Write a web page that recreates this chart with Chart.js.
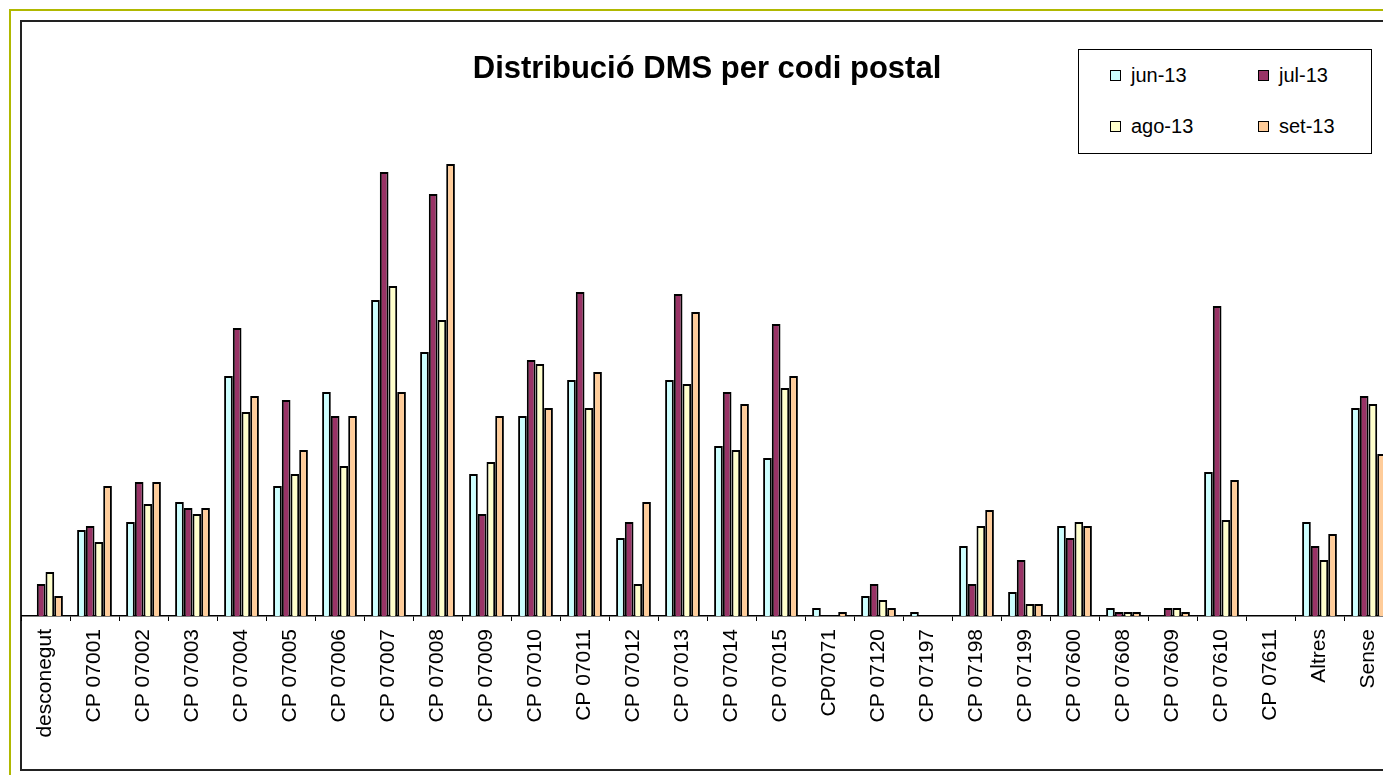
<!DOCTYPE html>
<html>
<head>
<meta charset="utf-8">
<script src="https://cdn.jsdelivr.net/npm/chart.js@4"></script>
<style>
html, body { margin: 0; padding: 0; overflow: hidden; background: #fff; width: 1383px; height: 775px; }
#outer { position: absolute; left: 9px; top: 9px; width: 1460px; height: 800px; border: 2px solid #b0b800; }
#inner { position: absolute; left: 20px; top: 20px; width: 1420px; height: 747px; border: 2px solid #222; }
#myChart { position: absolute; left: 21px; top: 21px; }
#legend { position: absolute; left: 1078px; top: 49px; width: 292px; height: 103px; border: 1px solid #000; background: #fff;
  font-family: "Liberation Sans", Arial, sans-serif; font-size: 20px; color: #000; }
.item { position: absolute; height: 24px; line-height: 24px; white-space: nowrap; }
.item span.sq { display: inline-block; width: 9px; height: 9px; border: 1px solid #000; margin-right: 10px; vertical-align: 1px; }
</style>
</head>
<body>
<div id="outer"></div>
<div id="inner"></div>
<canvas id="myChart" width="1372" height="748"></canvas>
<div id="legend"></div>
<script>
// categories and values
const categories = ['desconegut', 'CP 07001', 'CP 07002', 'CP 07003', 'CP 07004', 'CP 07005', 'CP 07006',
  'CP 07007', 'CP 07008', 'CP 07009', 'CP 07010', 'CP 07011', 'CP 07012', 'CP 07013', 'CP 07014',
  'CP 07015', 'CP07071', 'CP 07120', 'CP 07197', 'CP 07198', 'CP 07199', 'CP 07600', 'CP 07608',
  'CP 07609', 'CP 07610', 'CP 07611', 'Altres', 'Sense'];

const jun13 = [0, 21.5, 23.5, 28.5, 60, 32.5, 56, 79, 66, 35.5, 50, 59, 19.5, 59, 42.5, 39.5, 2, 5, 1, 17.5, 6, 22.5, 2, 0, 36, 0, 23.5, 52];
const jul13 = [8, 22.5, 33.5, 27, 72, 54, 50, 111, 105.5, 25.5, 64, 81, 23.5, 80.5, 56, 73, 0, 8, 0, 8, 14, 19.5, 1, 2, 77.5, 0, 17.5, 55];
const ago13 = [11, 18.5, 28, 25.5, 51, 35.5, 37.5, 82.5, 74, 38.5, 63, 52, 8, 58, 41.5, 57, 0, 4, 0, 22.5, 3, 23.5, 1, 2, 24, 0, 14, 53];
const set13 = [5, 32.5, 33.5, 27, 55, 41.5, 50, 56, 113, 50, 52, 61, 28.5, 76, 53, 60, 1, 2, 0, 26.5, 3, 22.5, 1, 1, 34, 0, 20.5, 40.5];

const seriesLabels = ['jun-13', 'jul-13', 'ago-13', 'set-13'];
const seriesColors = ['#ccffff', '#993366', '#ffffcc', '#ffcc99'];
const seriesValues = [jun13, jul13, ago13, set13];

const FONT = '"Liberation Sans", Arial, sans-serif';

// title box: padding top + line + padding bottom
const titleSize = 31, titlePadTop = 30, titlePadBottom = 38;
const plotTop = titlePadTop + titleSize * 1.2 + titlePadBottom;
const plotBottom = 595;
const axisHeight = 748 - plotBottom;
const yMax = (plotBottom - plotTop) / 4;

const data = {
  labels: categories,
  datasets: seriesLabels.map((label, i) => ({
    label: label,
    data: seriesValues[i],
    backgroundColor: seriesColors[i],
    borderColor: '#000',
    borderWidth: 2,
    barPercentage: 1,
    categoryPercentage: 0.71
  }))
};

const config = {
  type: 'bar',
  data,
  options: {
    responsive: false,
    animation: false,
    devicePixelRatio: 1,
    layout: { padding: 0 },
    scales: {
      x: {
        grid: { display: true, drawOnChartArea: false, color: '#000', tickLength: 5, offset: true },
        border: { display: true, color: '#000', width: 1.5 },
        ticks: {
          color: '#000',
          font: { family: FONT, size: 21 },
          minRotation: 90,
          maxRotation: 90,
          padding: 8,
          autoSkip: false
        },
        afterFit: scale => {
          scale.height = axisHeight;
          scale.paddingLeft = 0;
          scale.paddingRight = 0;
        }
      },
      y: {
        display: false,
        min: 0,
        max: yMax
      }
    },
    plugins: {
      legend: { display: false },
      tooltip: { enabled: false },
      title: {
        display: true,
        text: 'Distribució DMS per codi postal',
        color: '#000',
        font: { family: FONT, size: titleSize, weight: 'bold', lineHeight: 1.2 },
        padding: { top: titlePadTop, bottom: titlePadBottom }
      }
    }
  }
};

const myChart = new Chart(document.getElementById('myChart'), config);

// legend box, 2 x 2
const legendPos = [[31, 13], [179, 13], [31, 64], [179, 64]];
const legendEl = document.getElementById('legend');
seriesLabels.forEach((label, i) => {
  const div = document.createElement('div');
  div.className = 'item';
  div.style.left = legendPos[i][0] + 'px';
  div.style.top = legendPos[i][1] + 'px';
  div.innerHTML = '<span class="sq" style="background:' + seriesColors[i] + '"></span>' + label;
  legendEl.appendChild(div);
});
</script>
</body>
</html>
